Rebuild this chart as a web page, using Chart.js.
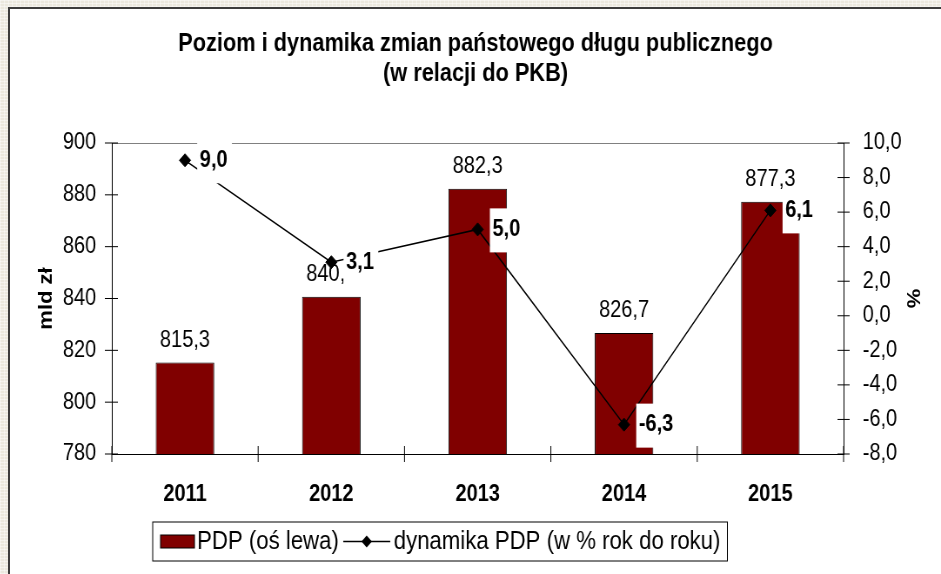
<!DOCTYPE html>
<html lang="pl">
<head>
<meta charset="utf-8">
<title>Poziom i dynamika zmian państowego długu publicznego</title>
<script src="https://cdn.jsdelivr.net/npm/chart.js@4.4.1/dist/chart.umd.min.js"></script>
<style>
  html, body { margin: 0; padding: 0; }
  body {
    width: 941px; height: 574px; overflow: hidden; position: relative;
    background-color: #ebe8de;
    background-image:
      repeating-linear-gradient(0deg, rgba(255,255,255,.45) 0 1px, transparent 1px 3px),
      repeating-linear-gradient(90deg, rgba(255,255,255,.35) 0 1px, transparent 1px 4px);
  }
  #frame {
    position: absolute; left: 8px; top: 7px; width: 931px; height: 565px;
    background: #fff; border-left: 2px solid #3c3c3c; border-top: 2px solid #3c3c3c;
    overflow: hidden;
  }
  #chart { position: absolute; left: 0; top: 0; transform-origin: 0 0; }
</style>
</head>
<body>
<div id="frame"><canvas id="chart" width="1070" height="565"></canvas></div>
<script>
// Dane wykresu
const lata = ['2011', '2012', '2013', '2014', '2015'];
const pdp = [815.3, 840.7, 882.3, 826.7, 877.3];
const dynamika = [9.0, 3.1, 5.0, -6.3, 6.1];
const tickiLewe = [780, 800, 820, 840, 860, 880, 900];
const tickiPrawe = [-8, -6, -4, -2, 0, 2, 4, 6, 8, 10];
const tytul = ['Poziom i dynamika zmian państowego długu publicznego', '(w relacji do PKB)'];
const opisy = ['PDP (oś lewa)', 'dynamika PDP (w % rok do roku)'];

const FONT = '"Liberation Sans", Arial, Helvetica, sans-serif';
const BORDO = '#800000';

// oryginał jest ściśnięty w poziomie
const canvas = document.getElementById('chart');
canvas.style.transform = 'scaleX(' + (931 / 1070) + ')';

Chart.defaults.font.family = FONT;
Chart.defaults.color = '#000';

const fmt = v => v.toFixed(1).replace('.', ',');

// Kreski podziałki, etykiety wartości i legenda
const dodatki = {
    id: 'dodatki',
    afterDatasetsDraw(chart) {
        const { ctx, chartArea: a, scales } = chart;
        ctx.save();
        ctx.strokeStyle = '#000';
        ctx.lineWidth = 1;
        ctx.beginPath();
        scales.y.ticks.forEach(t => {
            const y = scales.y.getPixelForValue(t.value);
            ctx.moveTo(a.left - 8, y);
            ctx.lineTo(a.left + 7, y);
        });
        scales.y1.ticks.forEach(t => {
            const y = scales.y1.getPixelForValue(t.value);
            ctx.moveTo(a.right - 7, y);
            ctx.lineTo(a.right + 7, y);
        });
        const krok = scales.x.getPixelForValue(1) - scales.x.getPixelForValue(0);
        for (let i = 0; i <= lata.length; i++) {
            const x = scales.x.getPixelForValue(i) - krok / 2;
            ctx.moveTo(x, a.bottom - 8);
            ctx.lineTo(x, a.bottom + 8);
        }
        ctx.stroke();

        // wartości nad słupkami
        ctx.fillStyle = '#000';
        ctx.font = '23px ' + FONT;
        ctx.textAlign = 'center';
        ctx.textBaseline = 'middle';
        chart.getDatasetMeta(1).data.forEach((bar, i) => {
            ctx.fillText(fmt(pdp[i]), bar.x, bar.y - 22);
        });

        // wartości dynamiki na białym tle
        ctx.font = 'bold 23px ' + FONT;
        ctx.textAlign = 'left';
        chart.getDatasetMeta(0).data.forEach((pt, i) => {
            const txt = fmt(dynamika[i]);
            const w = ctx.measureText(txt).width + 8;
            const x = pt.x + 14;
            ctx.fillStyle = '#fff';
            ctx.fillRect(x, pt.y - 21, w, 44);
            ctx.fillStyle = '#000';
            ctx.fillText(txt, x + 3, pt.y);
        });
        ctx.restore();
    },
    afterDraw(chart) {
        const { ctx } = chart;
        ctx.save();
        ctx.font = '25.5px ' + FONT;
        ctx.textBaseline = 'middle';
        ctx.textAlign = 'left';
        ctx.strokeStyle = '#000';
        ctx.lineWidth = 1;
        const x0 = 164, y0 = 513, h = 39, cy = y0 + h / 2;
        let x = x0 + 9;

        ctx.fillStyle = BORDO;
        ctx.fillRect(x, cy - 6.5, 39, 13);
        ctx.strokeRect(x, cy - 6.5, 39, 13);
        x += 39 + 3;
        ctx.fillStyle = '#000';
        ctx.fillText(opisy[0], x, cy);
        x += ctx.measureText(opisy[0]).width + 5;

        ctx.lineWidth = 1.5;
        ctx.beginPath();
        ctx.moveTo(x, cy);
        ctx.lineTo(x + 54, cy);
        ctx.stroke();
        ctx.beginPath();
        ctx.moveTo(x + 27, cy - 6);
        ctx.lineTo(x + 33, cy);
        ctx.lineTo(x + 27, cy + 6);
        ctx.lineTo(x + 21, cy);
        ctx.closePath();
        ctx.fill();
        x += 54 + 4;

        ctx.fillText(opisy[1], x, cy);
        x += ctx.measureText(opisy[1]).width + 8;

        ctx.lineWidth = 1;
        ctx.strokeRect(x0, y0, x - x0, h);
        ctx.restore();
    }
};

new Chart(canvas, {
    data: {
        labels: lata,
        datasets: [{
            type: 'line',
            label: opisy[1],
            data: dynamika,
            yAxisID: 'y1',
            order: 0,
            borderColor: '#000',
            borderWidth: 1.5,
            tension: 0,
            pointStyle: 'rectRot',
            pointRadius: 6.5,
            pointBackgroundColor: '#000',
            pointBorderColor: '#000',
            pointBorderWidth: 1
        }, {
            type: 'bar',
            label: opisy[0],
            data: pdp,
            yAxisID: 'y',
            order: 1,
            backgroundColor: BORDO,
            borderColor: '#000',
            borderWidth: 1,
            barPercentage: 0.4,
            categoryPercentage: 1
        }]
    },
    options: {
        responsive: false,
        animation: false,
        layout: { padding: 0 },
        plugins: {
            legend: { display: false },
            tooltip: { enabled: false },
            title: {
                display: true,
                text: tytul,
                color: '#000',
                font: { size: 25, weight: 'bold', lineHeight: 1.2 },
                padding: { top: 20, bottom: 54 }
            }
        },
        scales: {
            x: {
                grid: { display: false },
                border: { display: true, color: '#000', width: 1 },
                ticks: { font: { size: 23, weight: 'bold' }, padding: 19, color: '#000' },
                afterFit(scale) { scale.height = 120; }
            },
            y: {
                position: 'left',
                min: tickiLewe[0],
                max: tickiLewe[tickiLewe.length - 1],
                afterBuildTicks(scale) { scale.ticks = tickiLewe.map(v => ({ value: v })); },
                grid: {
                    drawTicks: false,
                    color: c => (c.tick && c.tick.value === 900) ? '#808080' : 'rgba(0,0,0,0)'
                },
                border: { display: true, color: '#000', width: 1 },
                ticks: { font: { size: 23 }, padding: 18, color: '#000', callback: v => String(v) },
                title: {
                    display: true, text: 'mld zł', color: '#000',
                    font: { size: 22, weight: 'bold' }, padding: { top: 29, bottom: 0 }
                },
                afterFit(scale) { scale.width = 117; }
            },
            y1: {
                position: 'right',
                min: tickiPrawe[0],
                max: tickiPrawe[tickiPrawe.length - 1],
                afterBuildTicks(scale) { scale.ticks = tickiPrawe.map(v => ({ value: v })); },
                grid: { display: false, drawTicks: false },
                border: { display: true, color: '#000', width: 1 },
                ticks: { font: { size: 23 }, padding: 22, color: '#000', callback: v => fmt(v) },
                title: {
                    display: true, text: '%', color: '#000',
                    font: { size: 22, weight: 'bold' }, padding: { top: 20, bottom: 0 }
                },
                afterFit(scale) { scale.width = 112; }
            }
        }
    },
    plugins: [dodatki]
});
</script>
</body>
</html>
